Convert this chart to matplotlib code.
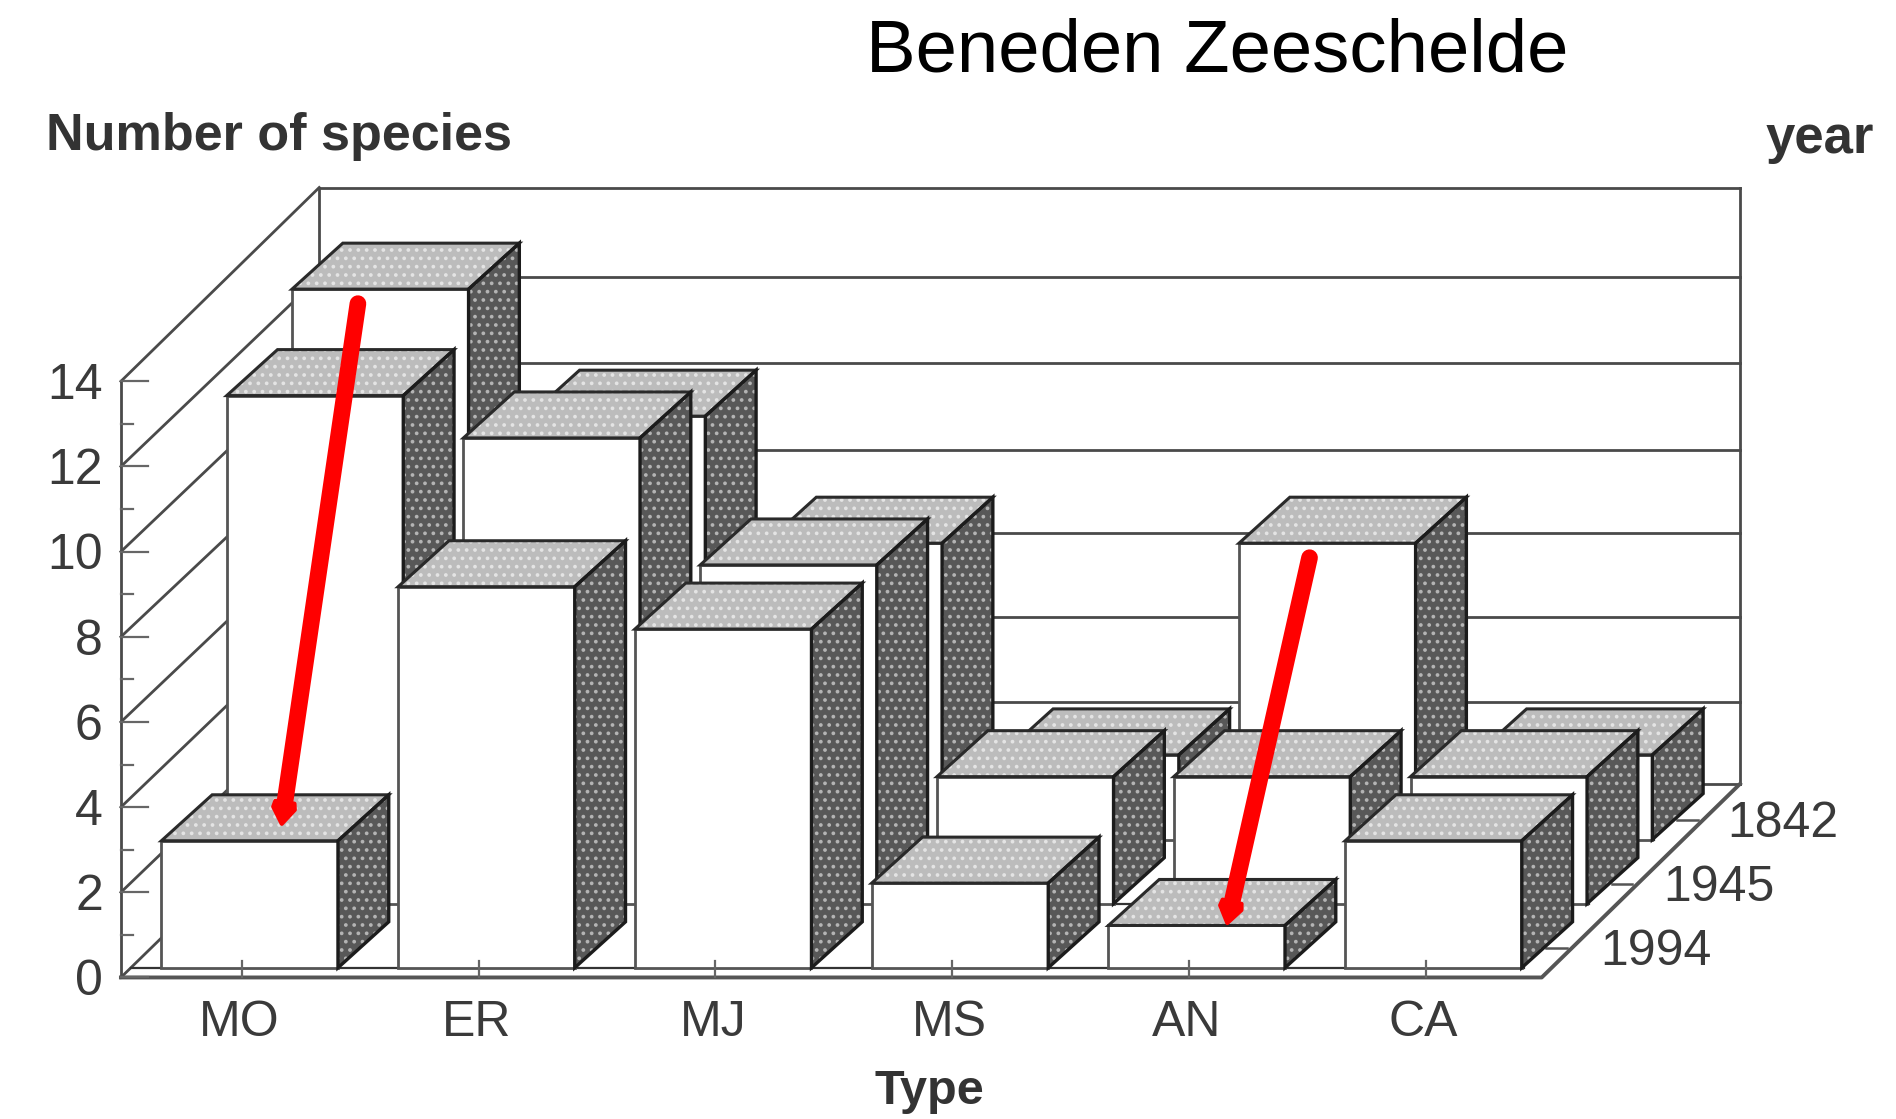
"""Pseudo-3D bar chart of species number per type and year, Beneden Zeeschelde."""

import matplotlib

matplotlib.use("Agg")
import matplotlib.pyplot as plt
import numpy as np
from matplotlib.patches import Polygon

types = ["MO", "ER", "MJ", "MS", "AN", "CA"]
years = ["1994", "1945", "1842"]
species_1994 = [3, 9, 8, 2, 1, 3]
species_1945 = [12, 11, 8, 3, 3, 3]
species_1842 = [13, 10, 7, 2, 7, 2]
y_ticks = list(range(0, 15, 2))

# oblique projection, in units of the 1568x925 view
ORIGIN = np.array([100.0, 808.0])
UNIT_Y = 35.2
BAR_UNIT_Y = 35.0
SLOT_W = 195.8
BAR_W = 146.0
BAR_LEFT = 33.5
ROW_STEP = 54.0
DEPTH_X = 164.0
DEPTH_Y = 160.0
BAR_DX = 42.0
BAR_DY = 38.0
ROW0_Y = 8.0
BACK_WALL_Y = [648, 580, 510, 441, 372, 300, 229, 155]  # the scan is a little uneven
INK = "#333333"
TEXT = "#3a3a3a"

plt.rcParams["font.family"] = ["Liberation Sans", "DejaVu Sans"]
plt.rcParams["hatch.linewidth"] = 1.5


def wall(x, depth, v):
    """Floor x in px from the front-left corner, depth 0..1, height in species."""
    return (
        ORIGIN[0] + x + depth * DEPTH_X,
        ORIGIN[1] - depth * DEPTH_Y - v * UNIT_Y,
    )


def bar(ax, slot, row, value, z):
    left = ORIGIN[0] + BAR_LEFT + slot * SLOT_W + row * ROW_STEP
    base = ORIGIN[1] - ROW0_Y - row * 53.0
    top = base - value * BAR_UNIT_Y
    right = left + BAR_W
    front = [(left, base), (right, base), (right, top), (left, top)]
    lid = [(left, top), (right, top), (right + BAR_DX, top - BAR_DY), (left + BAR_DX, top - BAR_DY)]
    side = [(right, base), (right + BAR_DX, base - BAR_DY), (right + BAR_DX, top - BAR_DY), (right, top)]
    ax.add_patch(Polygon(front, closed=True, fc="white", ec="#555555", lw=2.0, zorder=z))
    ax.add_patch(Polygon(lid, closed=True, fc="#bcbcbc", ec="#e4e4e4", lw=0, hatch="..", zorder=z))
    ax.add_patch(Polygon(lid, closed=True, fill=False, ec="#2a2a2a", lw=2.2, zorder=z + 0.1))
    ax.add_patch(Polygon(side, closed=True, fc="#585858", ec="#b4b4b4", lw=0, hatch="..", zorder=z))
    ax.add_patch(Polygon(side, closed=True, fill=False, ec="#1c1c1c", lw=2.4, zorder=z + 0.1))


def red_arrow(ax, start, end):
    start, end = np.array(start, float), np.array(end, float)
    u = (end - start) / np.hypot(*(end - start))
    n = np.array([-u[1], u[0]])
    neck = end - u * 13
    ax.plot(*zip(start, neck - u * 3), color="#ff0000", lw=12, solid_capstyle="round", zorder=50)
    ax.add_patch(
        Polygon(
            [end, neck + n * 9, neck - u * 5 + n * 8, neck - u * 5 - n * 8, neck - n * 9],
            closed=True, fc="#ff0000", ec="#ff0000", lw=3, joinstyle="round", zorder=50,
        )
    )


fig = plt.figure(figsize=(18.96, 11.19), dpi=100)
ax = fig.add_axes([0, 0, 1, 1])
ax.set_xlim(0, 1568)
ax.set_ylim(925, 0)
ax.axis("off")

floor_w = 1175.0
line = dict(color="#4a4a4a", lw=2.0, zorder=1, solid_capstyle="projecting")
back_left = wall(0, 1, 0)[0]
back_right = wall(floor_w, 1, 0)[0]

# back wall, left wall
for v, back_y in zip(y_ticks, BACK_WALL_Y):
    ax.plot(*zip(wall(0, 0, v), (back_left, back_y)), **line)
    ax.plot([back_left, back_right], [back_y, back_y], **line)
ax.plot(*zip(wall(0, 0, 0), wall(0, 0, 14)), **line)
ax.plot([back_left, back_left], [BACK_WALL_Y[0], BACK_WALL_Y[-1]], **line)
ax.plot([back_right, back_right], [BACK_WALL_Y[0], BACK_WALL_Y[-1]], **line)

# floor
ax.plot(*zip(wall(0, 0, 0), wall(floor_w, 0, 0), wall(floor_w, 1, 0)), color="#555555", lw=2.8, zorder=1)

# value ticks, long on the labelled ones
for v in range(0, 15):
    x0, y0 = wall(0, 0, v)
    ax.plot([x0, x0 + (22 if v % 2 == 0 else 10)], [y0, y0], color="#666666", lw=1.6, zorder=2)
for v in y_ticks:
    x0, y0 = wall(0, 0, v)
    ax.text(x0 - 15, y0 + 4, str(v), ha="right", va="center", fontsize=36, color=TEXT)

# row base lines and year ticks
for row, year in enumerate(years):
    base = ORIGIN[1] - ROW0_Y - row * 53.0
    ax.plot([ORIGIN[0] + row * ROW_STEP + 8, 1252 + row * ROW_STEP + 8], [base, base], color=INK, lw=1.6, zorder=1.5)
    tick_y = base - 16
    edge_x = ORIGIN[0] + floor_w + (ORIGIN[1] - tick_y) / DEPTH_Y * DEPTH_X
    ax.plot([edge_x - 21, edge_x - 4], [tick_y, tick_y], color="#555555", lw=1.8, zorder=2)
    ax.text(edge_x + 24 - row * 2, tick_y + 3, year, ha="left", va="center", fontsize=36, color=TEXT)

# bars, from the back row forward
rows = [species_1994, species_1945, species_1842]
for row in (2, 1, 0):
    for slot, value in enumerate(rows[row]):
        bar(ax, slot, row, value, 10 + (2 - row) * 10 + slot * 0.5)

# category ticks and labels
for slot, name in enumerate(types):
    x = ORIGIN[0] + 100 + slot * SLOT_W
    ax.plot([x, x], [ORIGIN[1], ORIGIN[1] - 14], color="#666666", lw=1.6, zorder=40)
    ax.text(x - 2, 846, name, ha="center", va="center", fontsize=36, color=TEXT)

ax.text(1007, 43, "Beneden Zeeschelde", ha="center", va="center", fontsize=53.6, color="black")
ax.text(38, 113, "Number of species", ha="left", va="center", fontsize=37.5, fontweight="bold", color="#333333")
ax.text(1505, 115, "year", ha="center", va="center", fontsize=38, fontweight="bold", color="#333333")
ax.text(769, 902, "Type", ha="center", va="center", fontsize=35, fontweight="bold", color="#333333")

red_arrow(ax, (296, 251), (233, 681))
red_arrow(ax, (1083, 461), (1015, 763))

fig.savefig("out.png", dpi=100)
